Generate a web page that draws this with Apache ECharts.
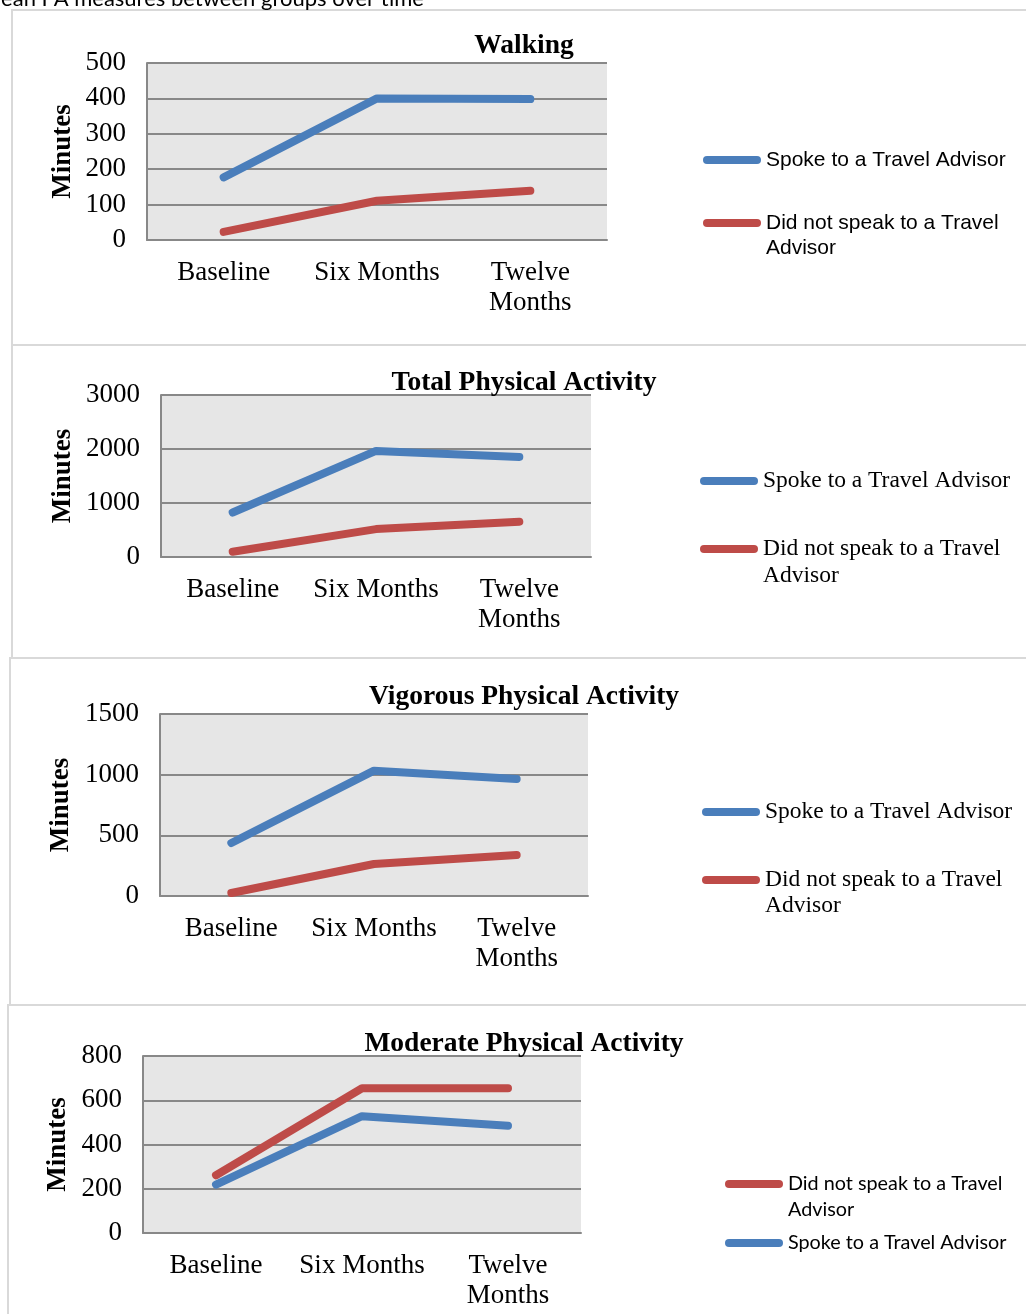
<!DOCTYPE html>
<html>
<head>
<meta charset="utf-8">
<script src="https://cdn.jsdelivr.net/npm/echarts@6/dist/echarts.min.js"></script>
<style>
html,body{margin:0;padding:0;background:#fff;}
#c{width:1026px;height:1314px;}
</style>
</head>
<body>
<div id="c"></div>
<script>
const categories = ['Baseline', 'Six Months', 'Twelve\nMonths'];
const seriesNames = ['Spoke to a Travel Advisor', 'Did not speak to a Travel Advisor'];
const panelTitles = ['Walking', 'Total Physical Activity', 'Vigorous Physical Activity', 'Moderate Physical Activity'];
const yMax = [500, 3000, 1500, 800];
const yInterval = [100, 1000, 500, 200];

const walkingSpoke = [177, 400, 398];
const walkingNot = [23, 111, 139];
const totalSpoke = [824, 1965, 1854];
const totalNot = [98, 517, 652];
const vigorousSpoke = [437, 1033, 964];
const vigorousNot = [25, 264, 338];
const moderateSpoke = [219, 528, 485];
const moderateNot = [261, 654, 654];

const spokeData = [walkingSpoke, totalSpoke, vigorousSpoke, moderateSpoke];
const notData = [walkingNot, totalNot, vigorousNot, moderateNot];

const BLUE = '#4a7ebb';
const RED = '#be4b48';
const SERIF = '"Liberation Serif", "Times New Roman", serif';
const SANS = '"Liberation Sans", Arial, sans-serif';
const CAL = 'Lato, "Open Sans", sans-serif';

const grids = [
  {left: 147, top: 63, width: 460, height: 177},
  {left: 161, top: 395, width: 430, height: 162},
  {left: 160, top: 714, width: 428, height: 182},
  {left: 143, top: 1056, width: 438, height: 177}
];
const nameGaps = [70, 84, 85, 71];
const titleTops = [32, 369, 683, 1030];

const pill = 'path://M4,0 H54 A4,4 0 0 1 54,8 H4 A4,4 0 0 1 4,0 Z';

function legendItem(name, left, iconY, font, size, lh, multi) {
  return {
    orient: 'vertical',
    left: left,
    top: iconY - (multi ? lh * 1.5 : lh / 2),
    padding: 0,
    itemWidth: 58,
    itemHeight: 8,
    icon: pill,
    selectedMode: false,
    data: [name],
    formatter: function (n) { return n === seriesNames[1] ? '\nDid not speak to a Travel\nAdvisor' : n; },
    textStyle: {fontFamily: font, fontSize: size, color: '#000', lineHeight: lh}
  };
}

const legends = [
  legendItem(seriesNames[0], 703, 160, SANS, 21, 25, false),
  legendItem(seriesNames[1], 703, 223, SANS, 21, 25, true),
  legendItem(seriesNames[0], 700, 481, SERIF, 23.5, 27, false),
  legendItem(seriesNames[1], 700, 549, SERIF, 23.5, 27, true),
  legendItem(seriesNames[0], 702, 812, SERIF, 23.5, 26, false),
  legendItem(seriesNames[1], 702, 880, SERIF, 23.5, 26, true),
  legendItem(seriesNames[1], 725, 1184, CAL, 19.8, 26, true),
  legendItem(seriesNames[0], 725, 1243, CAL, 19.8, 26, false)
];

const option = {
  animation: false,
  backgroundColor: '#fff',
  title: panelTitles.map((t, i) => ({
    text: t,
    left: 524,
    textAlign: 'center',
    top: titleTops[i],
    padding: 0,
    textStyle: {fontFamily: SERIF, fontSize: 27.5, fontWeight: 'bold', color: '#000'}
  })),
  legend: legends,
  grid: grids.map(g => Object.assign({show: true, backgroundColor: '#e6e6e6', borderWidth: 0}, g)),
  xAxis: grids.map((g, i) => ({
    type: 'category',
    gridIndex: i,
    data: categories,
    boundaryGap: true,
    axisLine: {show: true, lineStyle: {color: '#888', width: 2}},
    axisTick: {show: false},
    axisLabel: {fontFamily: SERIF, fontSize: 27, color: '#000', margin: 18, lineHeight: 30, interval: 0}
  })),
  yAxis: grids.map((g, i) => ({
    type: 'value',
    gridIndex: i,
    min: 0,
    max: yMax[i],
    interval: yInterval[i],
    name: 'Minutes',
    nameLocation: 'middle',
    nameGap: nameGaps[i],
    nameTextStyle: {fontFamily: SERIF, fontSize: 27, fontWeight: 'bold', color: '#000'},
    axisLine: {show: true, lineStyle: {color: '#888', width: 2}},
    axisTick: {show: false},
    splitLine: {show: true, lineStyle: {color: '#888', width: 2}},
    axisLabel: {fontFamily: SERIF, fontSize: 27, color: '#000', margin: 21,
      formatter: function (v) { return String(v); }}
  })),
  series: [],
  graphic: [
    {type: 'rect', shape: {x: 12, y: 10, width: 1040, height: 335}, style: {fill: 'none', stroke: '#d9d9d9', lineWidth: 2}, silent: true},
    {type: 'rect', shape: {x: 12, y: 345, width: 1040, height: 313}, style: {fill: 'none', stroke: '#d9d9d9', lineWidth: 2}, silent: true},
    {type: 'rect', shape: {x: 10, y: 658, width: 1040, height: 347}, style: {fill: 'none', stroke: '#d9d9d9', lineWidth: 2}, silent: true},
    {type: 'rect', shape: {x: 8, y: 1005, width: 1040, height: 340}, style: {fill: 'none', stroke: '#d9d9d9', lineWidth: 2}, silent: true},
    {type: 'text', left: -19, top: -12, silent: true,
      style: {text: 'Mean PA measures between groups over time', font: '22px ' + CAL, fill: '#000'}}
  ]
};

for (let i = 0; i < 4; i++) {
  const order = i === 3 ? [1, 0] : [0, 1];
  order.forEach(k => {
    option.series.push({
      type: 'line',
      name: seriesNames[k],
      xAxisIndex: i,
      yAxisIndex: i,
      data: k === 0 ? spokeData[i] : notData[i],
      symbol: 'none',
      color: k === 0 ? BLUE : RED,
      lineStyle: {width: 8, color: k === 0 ? BLUE : RED, cap: 'round', join: 'round'}
    });
  });
}

const chart = echarts.init(document.getElementById('c'), null, {renderer: 'canvas'});
chart.setOption(option);
</script>
</body>
</html>
